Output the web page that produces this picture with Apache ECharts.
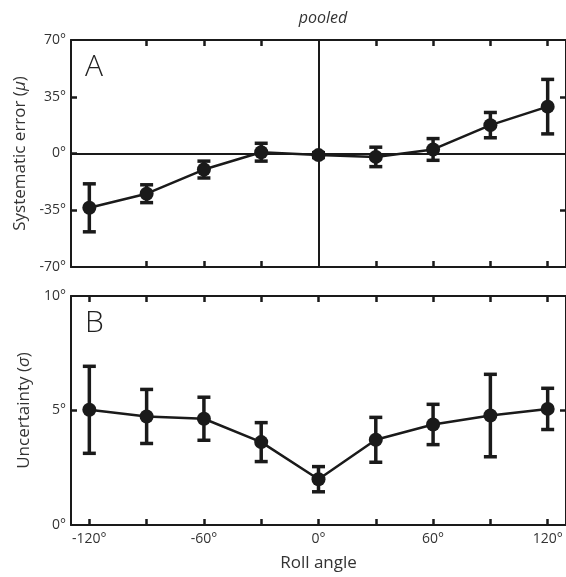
<!DOCTYPE html>
<html>
<head>
<meta charset="utf-8">
<script src="https://cdn.jsdelivr.net/npm/echarts@6/dist/echarts.min.js"></script>
<style>
    html, body { margin: 0; padding: 0; background: #fff; }
    #chart { width: 566px; height: 577px; }
</style>
</head>
<body>
<div id="chart"></div>
<script>
// roll angles (deg)
var rollAngles = [-120, -90, -60, -30, 0, 30, 60, 90, 120];
// panel A: systematic error mean and error bar half-length
var muMean = [-33.5, -24.8, -9.9, 0.8, -1.0, -2.1, 2.5, 17.5, 28.9];
var muErr = [14.8, 5.5, 5.2, 5.5, 1.5, 6.0, 6.7, 7.8, 16.8];
// panel B: uncertainty mean and error bar half-length
var sigmaMean = [5.03, 4.74, 4.64, 3.62, 2.0, 3.72, 4.39, 4.78, 5.07];
var sigmaErr = [1.9, 1.18, 0.94, 0.85, 0.55, 0.98, 0.88, 1.8, 0.9];
// tick labels
var xLabelValues = [-120, -60, 0, 60, 120];
var muLabelValues = [-70, -35, 0, 35, 70];
var sigmaLabelValues = [0, 5, 10];

var INK = '#1a1a1a';
var TXT = '#333';
var FONT = '"Open Sans", "Noto Sans", sans-serif';

function pairs(xs, ys) {
    return xs.map(function (x, i) { return [x, ys[i]]; });
}

function errData(xs, ys, es) {
    return xs.map(function (x, i) { return [x, ys[i] - es[i], ys[i] + es[i]]; });
}

/**
 * @description 误差棒: 竖线加上下横帽
 */
function renderErr(params, api) {
    var x = api.value(0);
    var top = api.coord([x, api.value(2)]);
    var bot = api.coord([x, api.value(1)]);
    var hw = 6.5;
    var st = { stroke: INK, lineWidth: 3.5 };
    return {
        type: 'group',
        children: [
            { type: 'line', shape: { x1: top[0], y1: top[1], x2: bot[0], y2: bot[1] }, style: st },
            { type: 'line', shape: { x1: top[0] - hw, y1: top[1], x2: top[0] + hw, y2: top[1] }, style: st },
            { type: 'line', shape: { x1: bot[0] - hw, y1: bot[1], x2: bot[0] + hw, y2: bot[1] }, style: st }
        ]
    };
}

function deg(v) { return v + '°'; }

function ticks(values) {
    return { show: true, inside: true, length: 6, customValues: values, lineStyle: { color: INK, width: 2.5 } };
}

function xAxis(grid, pos, tickValues, labels, name) {
    return {
        type: 'value', gridIndex: grid, position: pos, min: -129.6, max: 129.6,
        axisLine: { show: true, onZero: false, lineStyle: { color: INK, width: 2 } },
        splitLine: { show: false },
        axisTick: ticks(tickValues),
        axisLabel: labels ? {
            customValues: labels, formatter: deg, color: TXT, fontSize: 14,
            fontFamily: FONT, margin: 7
        } : { show: false },
        name: name || '', nameLocation: 'middle', nameGap: 30,
        nameTextStyle: { color: TXT, fontSize: 17, fontFamily: FONT }
    };
}

function yAxis(grid, pos, min, max, tickValues, labels, name, rich) {
    return {
        type: 'value', gridIndex: grid, position: pos, min: min, max: max,
        axisLine: { show: true, onZero: false, lineStyle: { color: INK, width: 2 } },
        splitLine: { show: false },
        axisTick: ticks(tickValues),
        axisLabel: labels ? {
            customValues: labels, formatter: deg, color: TXT, fontSize: 14,
            fontFamily: FONT, margin: 5
        } : { show: false },
        name: name || '', nameLocation: 'middle', nameGap: 30,
        nameTextStyle: { color: TXT, fontSize: 17, fontFamily: FONT, rich: rich }
    };
}

var xTicksA = [-90, -60, -30, 30, 60, 90, 120];
var xTicksB = [-120, -90, -60, -30, 0, 30, 60, 90, 120];
var italic = { i: { fontStyle: 'italic', fontSize: 17, color: TXT, fontFamily: FONT } };

var myChart = echarts.init(document.getElementById('chart'), null, { renderer: 'canvas' });
var option = {
    animation: false,
    title: [{
        text: 'pooled', left: 318, top: 5, textAlign: 'center',
        textStyle: { fontStyle: 'italic', fontWeight: 'normal', fontSize: 16, color: TXT, fontFamily: FONT }
    }, {
        text: 'A', left: 80, top: 47,
        textStyle: { fontWeight: 300, fontSize: 30, color: '#222', fontFamily: FONT }
    }, {
        text: 'B', left: 80, top: 303,
        textStyle: { fontWeight: 300, fontSize: 30, color: '#222', fontFamily: FONT }
    }],
    grid: [
        { left: 71, right: -2, top: 40, height: 227 },
        { left: 71, right: -2, top: 296, height: 229 }
    ],
    xAxis: [
        xAxis(0, 'bottom', xTicksA, null),
        xAxis(0, 'top', xTicksA, null),
        xAxis(1, 'bottom', xTicksB, xLabelValues, 'Roll angle'),
        xAxis(1, 'top', xTicksB, null)
    ],
    yAxis: [
        yAxis(0, 'left', -70, 70, [-35, 0, 35], muLabelValues, 'Systematic error ({i|μ})', italic),
        yAxis(0, 'right', -70, 70, [-35, 35], null),
        yAxis(1, 'left', 0, 10, [5], sigmaLabelValues, 'Uncertainty ({i|σ})', italic),
        yAxis(1, 'right', 0, 10, [5], null)
    ],
    series: [{
        type: 'custom', xAxisIndex: 0, yAxisIndex: 0, z: 3,
        renderItem: renderErr, data: errData(rollAngles, muMean, muErr)
    }, {
        type: 'line', xAxisIndex: 0, yAxisIndex: 0, z: 4,
        data: pairs(rollAngles, muMean),
        symbol: 'circle', symbolSize: 14,
        lineStyle: { color: INK, width: 2.5 }, itemStyle: { color: INK },
        markLine: {
            silent: true, symbol: 'none', label: { show: false },
            lineStyle: { color: INK, width: 2, type: 'solid' },
            data: [{ xAxis: 0 }, { yAxis: 0 }]
        }
    }, {
        type: 'custom', xAxisIndex: 2, yAxisIndex: 2, z: 3,
        renderItem: renderErr, data: errData(rollAngles, sigmaMean, sigmaErr)
    }, {
        type: 'line', xAxisIndex: 2, yAxisIndex: 2, z: 4,
        data: pairs(rollAngles, sigmaMean),
        symbol: 'circle', symbolSize: 14,
        lineStyle: { color: INK, width: 2.5 }, itemStyle: { color: INK }
    }]
};
if (option && typeof option === "object") {
    myChart.setOption(option, true);
}
</script>
</body>
</html>
